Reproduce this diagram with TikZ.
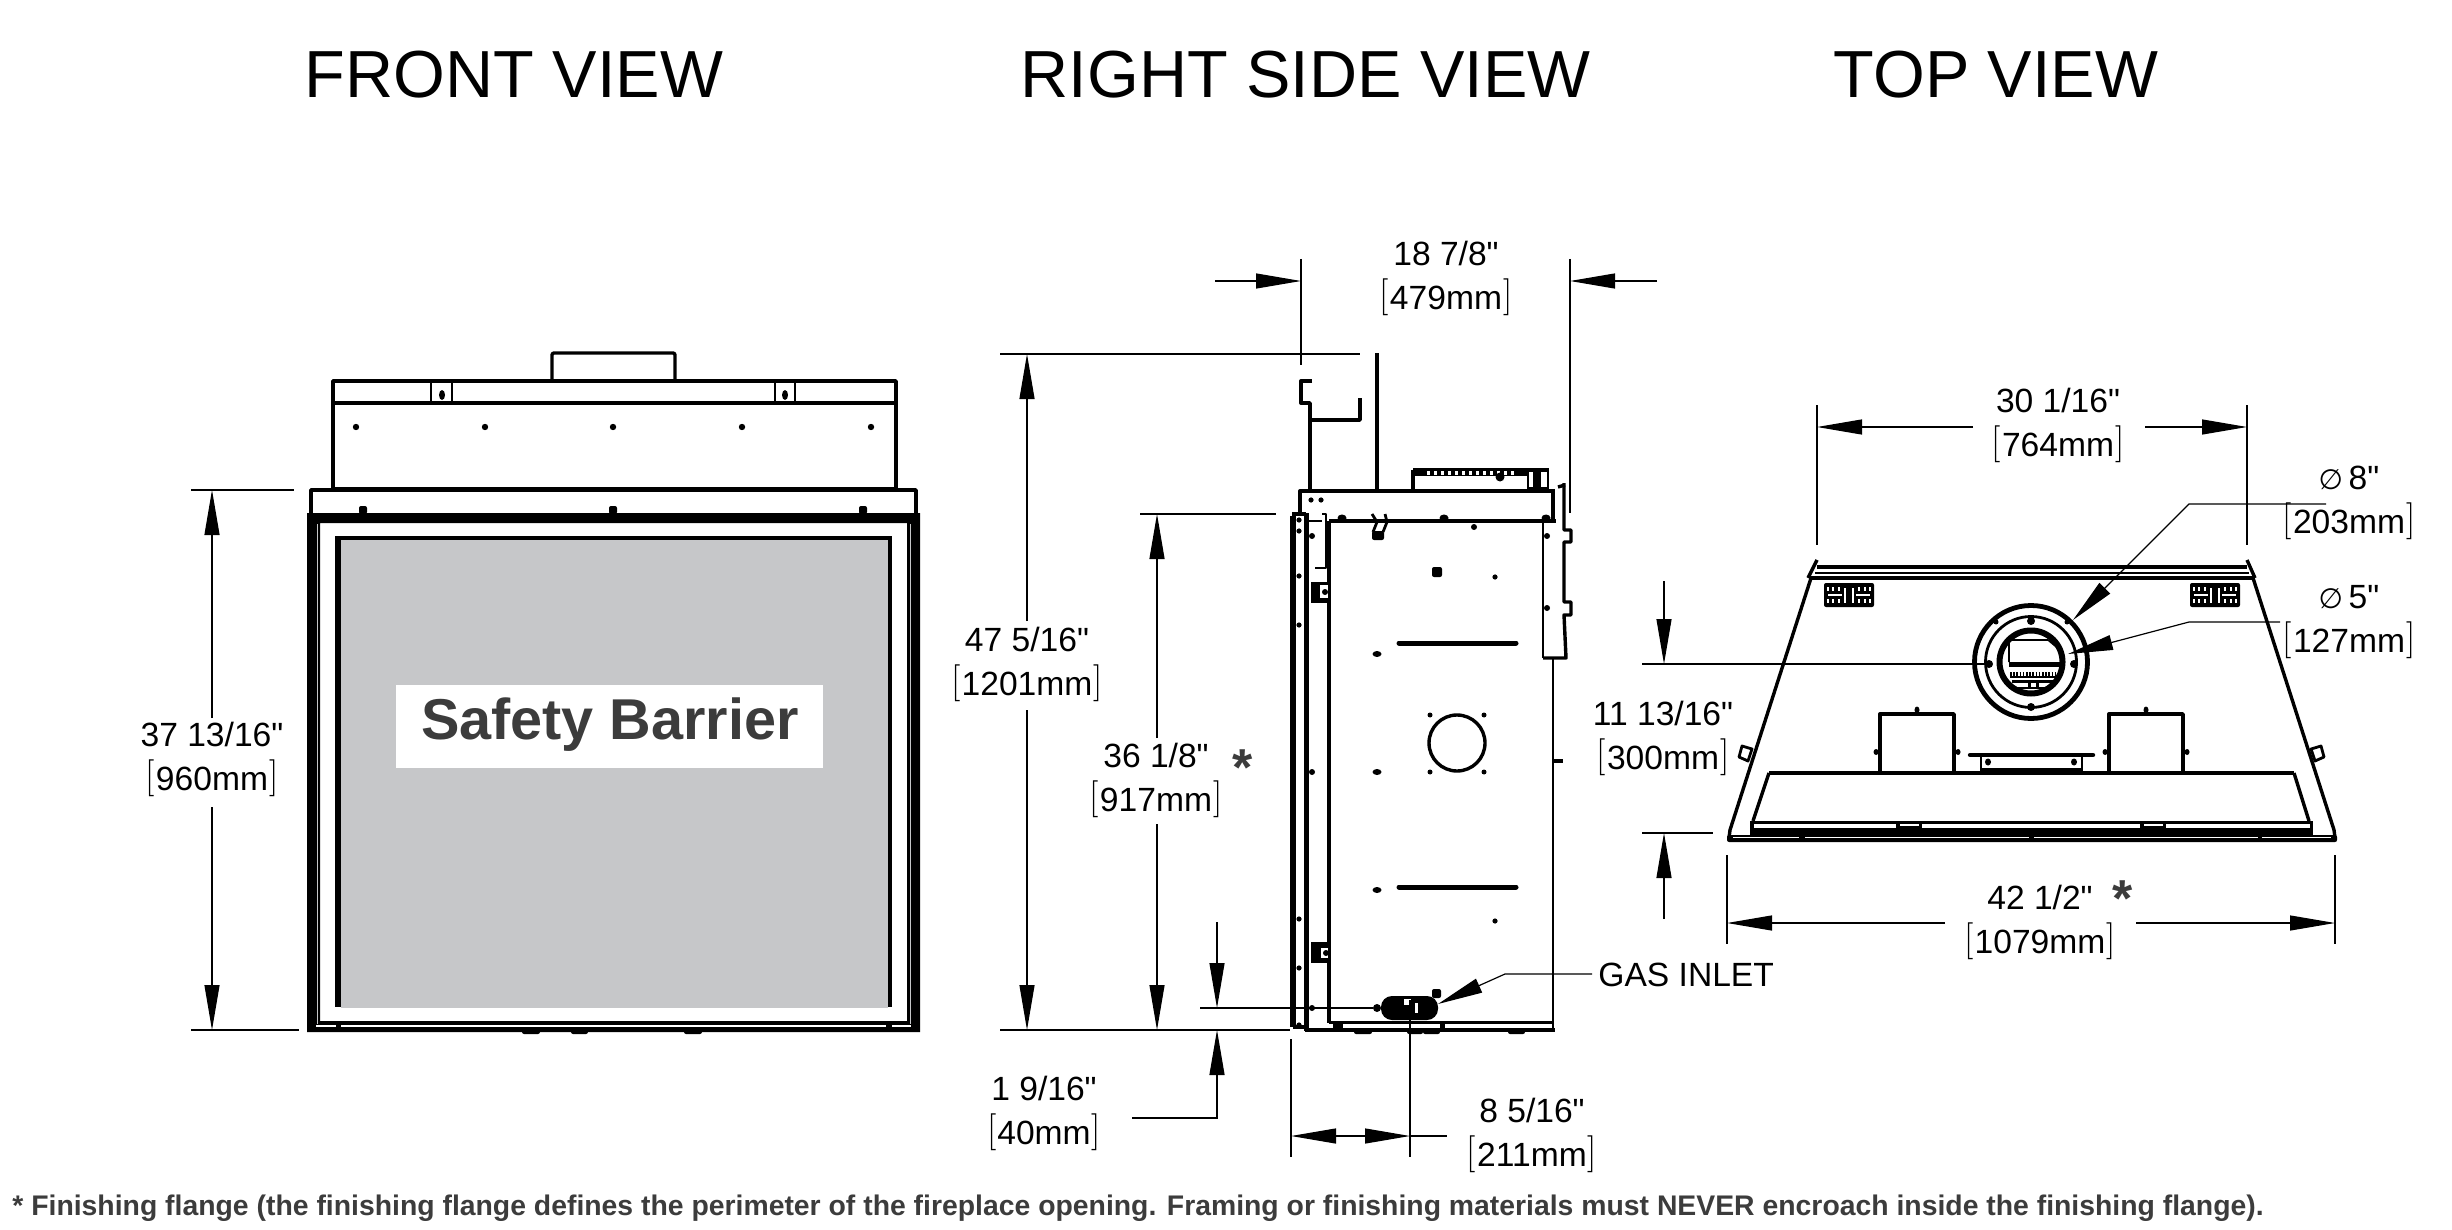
\documentclass[tikz,border=0pt]{standalone}
\usepackage{fontspec}
\usetikzlibrary{arrows.meta}
\newfontfamily\arialfont{Liberation Sans}
\newfontfamily\symfont{DejaVu Sans}
\newcommand{\mmtxt}[1]{{\rmfamily\fontsize{18.5}{18.5}\selectfont\raisebox{1.5pt}{[}}\kern0.5pt#1\kern0.5pt{\rmfamily\fontsize{18.5}{18.5}\selectfont\raisebox{1.5pt}{]}}}
\newcommand{\diatxt}[1]{{\symfont\fontsize{14}{20}\selectfont ∅}\,#1}
\definecolor{panelgray}{HTML}{C6C7C9}
\definecolor{notegray}{HTML}{3C3C3C}
\tikzset{
	titletext/.style={font=\arialfont\fontsize{33.3}{36}\selectfont, inner sep=0pt},
	dimtext/.style={font=\arialfont\fontsize{16.8}{22}\selectfont, align=center, inner sep=0pt},
	startext/.style={font=\arialfont\bfseries\fontsize{26}{26}\selectfont, text=notegray, inner sep=0pt},
	dimline/.style={draw=black, line width=0.6pt},
	dimarrow/.style={dimline, -{Triangle[length=22.5pt, width=7.5pt]}},
	dimboth/.style={dimline, {Triangle[length=22.5pt, width=7.5pt]}-{Triangle[length=22.5pt, width=7.5pt]}},
	partline/.style={draw=black, line width=1.7pt, line join=round},
	thinpart/.style={draw=black, line width=1.4pt, line join=round},
	heavyline/.style={draw=black, line width=2.2pt, line join=round},
	gapline/.style={draw=panelgray, line width=0.35pt},
	pics/ventgrid/.style={code={
		\fill[black, rounded corners=1pt] (0,0) rectangle (50,24);
		\draw[white, line width=0.6pt] (4,12) -- (18,12);
		\draw[white, line width=0.6pt] (32,12) -- (46,12);
		\draw[white, line width=0.6pt] (4,4) -- (4,8);
		\draw[white, line width=0.6pt] (9,4) -- (9,8);
		\draw[white, line width=0.6pt] (15,4) -- (15,8);
		\draw[white, line width=0.6pt] (35,4) -- (35,8);
		\draw[white, line width=0.6pt] (41,4) -- (41,8);
		\draw[white, line width=0.6pt] (46,4) -- (46,8);
		\draw[white, line width=0.6pt] (4,16) -- (4,20);
		\draw[white, line width=0.6pt] (9,16) -- (9,20);
		\draw[white, line width=0.6pt] (15,16) -- (15,20);
		\draw[white, line width=0.6pt] (35,16) -- (35,20);
		\draw[white, line width=0.6pt] (41,16) -- (41,20);
		\draw[white, line width=0.6pt] (46,16) -- (46,20);
		\draw[white, line width=0.6pt] (21,5) -- (21,20);
		\draw[white, line width=0.6pt] (29,5) -- (29,20);
	}},
}
\begin{document}
\begin{tikzpicture}[x=0.5pt, y=-0.5pt]
	\useasboundingbox (0,0) rectangle (2452,1230);
	\node[titletext] (fronttitle) at (514,74.5) {FRONT VIEW};
	\node[titletext] (sidetitle) at (1305.5,74.5) {RIGHT SIDE VIEW};
	\node[titletext] (toptitle) at (1996,74.5) {TOP VIEW};
	\node[font=\arialfont\bfseries\fontsize{14.18}{16}\selectfont, text=notegray, anchor=west, inner sep=0pt] (footnote) at (12,1208) {* Finishing flange (the finishing flange defines the perimeter of the fireplace opening. Framing or finishing materials must NEVER encroach inside the finishing flange).};

	\draw[partline, rounded corners=1pt] (552,380) -- (552,353) -- (675,353) -- (675,380);
	\draw[partline] (333,381) rectangle (896,489);
	\draw[heavyline] (333,381) -- (896,381);
	\draw[heavyline] (333,403) -- (896,403);
	\draw[thinpart] (431,381) -- (431,403);
	\draw[thinpart] (452,381) -- (452,403);
	\draw[thinpart] (775,381) -- (775,403);
	\draw[thinpart] (795,381) -- (795,403);
	\fill[black] (442,395) ellipse (3 and 5);
	\fill[black] (785,395) ellipse (3 and 5);
	\fill[black] (356,427) circle (3.2);
	\fill[black] (485,427) circle (3.2);
	\fill[black] (613,427) circle (3.2);
	\fill[black] (742,427) circle (3.2);
	\fill[black] (871,427) circle (3.2);
	\draw[partline] (311,513) -- (311,490) -- (916,490) -- (916,513);
	\fill[black, rounded corners=1pt] (359,506) rectangle (367,514);
	\fill[black, rounded corners=1pt] (609,506) rectangle (617,514);
	\fill[black, rounded corners=1pt] (859,506) rectangle (867,514);
	\fill[black, even odd rule] (307,513) rectangle (920,1032) (320,523) rectangle (907,1021);
	\draw[gapline] (317,524) -- (317,1024);
	\draw[gapline] (910,524) -- (910,1024);
	\draw[draw=white, line width=1.4pt] (316,1026) -- (336,1026);
	\draw[draw=white, line width=1.4pt] (892,1026) -- (911,1026);
	\draw[draw=white, line width=0.7pt] (341,1026) -- (886,1026);
	\fill[black, rounded corners=1pt] (522,1028) rectangle (540,1034);
	\fill[black, rounded corners=1pt] (571,1028) rectangle (588,1034);
	\fill[black, rounded corners=1pt] (684,1028) rectangle (702,1034);
	\fill[black] (335,536) rectangle (892,1007);
	\fill[panelgray] (341,540) rectangle (888,1008);
	\fill[white] (396,685) rectangle (823,768);
	\node[font=\arialfont\bfseries\fontsize{28.8}{32}\selectfont, text=notegray, inner sep=0pt] (barrier) at (610,725) {Safety Barrier};

	\draw[dimline] (191,490) -- (294,490);
	\draw[dimline] (191,1030) -- (299,1030);
	\draw[dimarrow] (212,718) -- (212,490);
	\draw[dimarrow] (212,807) -- (212,1030);
	\node[dimtext] (frontheight) at (212,759) {37 13/16"\\\mmtxt{960mm}};

	\draw[partline] (1312,381) -- (1301,381) -- (1301,403) -- (1310,403) -- (1310,490);
	\draw[partline] (1310,420) -- (1360,420) -- (1360,398);
	\draw[partline] (1377,353) -- (1377,490);
	\draw[partline] (1300,514) -- (1300,491) -- (1553,491) -- (1553,521);
	\draw[partline] (1553,489) -- (1553,521);
	\draw[thinpart] (1308,521) -- (1322,521);
	\draw[partline] (1329,521) -- (1556,521);
	\draw[partline] (1413,490) -- (1413,470);
	\fill[black] (1413,468) rectangle (1549,476);
	\draw[draw=white, line width=1.6pt, dash pattern=on 1.5pt off 2pt] (1427,473) -- (1518,473);
	\fill[black] (1527,468) rectangle (1549,490);
	\fill[white] (1529,472) rectangle (1533,487);
	\fill[white] (1541,472) rectangle (1547,487);
	\fill[black] (1500,477) circle (4.5);
	\draw[partline] (1558,487) -- (1565,485);
	\draw[partline] (1564,483) -- (1564,530) -- (1571,530) -- (1571,542) -- (1564,542) -- (1564,602) -- (1571,602) -- (1571,615) -- (1564,615) -- (1566,658) -- (1543,658);
	\draw[thinpart] (1543,521) -- (1543,658);
	\draw[thinpart] (1553,658) -- (1553,1030);
	\draw[partline] (1553,761) -- (1563,761);
	\draw[thinpart] (1322,514) -- (1326,514) -- (1326,568) -- (1315,568);
	\draw[partline, line width=3pt] (1293,516) -- (1293,1027);
	\draw[partline, line width=2.5pt] (1306,513) -- (1306,1031);
	\draw[partline] (1292,514) -- (1306,514);
	\draw[partline] (1293,1027) -- (1306,1027);
	\draw[partline] (1329,521) -- (1329,1023);
	\draw[heavyline] (1305,1029.7) -- (1555,1029.7);
	\draw[partline] (1329,1022.7) -- (1553,1022.7);
	\fill[black] (1333,1024) rectangle (1343,1028);
	\fill[black] (1440,1024) rectangle (1445,1028);
	\fill[black, rounded corners=1pt] (1354,1030) rectangle (1372,1034);
	\fill[black, rounded corners=1pt] (1407,1030) rectangle (1423,1034);
	\fill[black, rounded corners=1pt] (1423,1030) rectangle (1440,1034);
	\fill[black, rounded corners=1pt] (1508,1030) rectangle (1525,1034);
	\fill[black] (1311,582) rectangle (1330,603);
	\fill[white] (1320,585) rectangle (1328,598);
	\fill[black] (1325,592) circle (3);
	\fill[black] (1311,942) rectangle (1331,963);
	\fill[white] (1321,948) rectangle (1328,958);
	\fill[black] (1326,953) circle (3);
	\draw[thinpart] (1372,514) -- (1377,522) -- (1373,532);
	\draw[thinpart] (1385,514) -- (1387,522) -- (1383,532);
	\fill[black, rounded corners=1pt] (1372,531) rectangle (1384,540);
	\fill[black] (1311,500) circle (2.6);
	\fill[black] (1321,500) circle (2.6);
	\fill[black] (1299,520) circle (2.6);
	\fill[black] (1299,531) circle (2.6);
	\fill[black] (1312,536) circle (3);
	\fill[black] (1299,576) circle (2.6);
	\fill[black] (1299,625) circle (2.6);
	\fill[black] (1312,772) circle (3);
	\fill[black] (1299,919) circle (2.6);
	\fill[black] (1299,968) circle (2.6);
	\fill[black] (1312,1008) circle (3);
	\fill[black] (1299,1025) circle (2.6);
	\fill[black] (1342,518) ellipse (4.5 and 3.5);
	\fill[black] (1444,518) ellipse (4.5 and 3.5);
	\fill[black] (1546,518) ellipse (4.5 and 3.5);
	\fill[black] (1474,527) circle (3);
	\fill[black] (1547,536) circle (3);
	\fill[black] (1547,608) circle (3);
	\fill[black] (1495,577) circle (2.6);
	\fill[black] (1495,921) circle (2.6);
	\fill[black, rounded corners=1pt] (1432,567) rectangle (1442,577);
	\fill[black] (1377,654) ellipse (4.5 and 3);
	\fill[black] (1377,772) ellipse (4.5 and 3);
	\fill[black] (1377,890) ellipse (4.5 and 3);
	\draw[heavyline, line cap=round, line width=2.5pt] (1399,643) -- (1516,643);
	\draw[heavyline, line cap=round, line width=2.5pt] (1399,887) -- (1516,887);
	\draw[partline] (1457,743) circle (28);
	\fill[black] (1430,715) circle (2.5);
	\fill[black] (1484,715) circle (2.5);
	\fill[black] (1430,772) circle (2.5);
	\fill[black] (1484,772) circle (2.5);
	\fill[black, rounded corners=5.5pt] (1381,996) rectangle (1438,1020);
	\fill[white] (1404,999) rectangle (1411,1005);
	\fill[white] (1415,1003) rectangle (1418,1013);
	\fill[black] (1377,1008) circle (4);
	\fill[black, rounded corners=1pt] (1432,989) rectangle (1441,998);

	\draw[dimline] (1301,259) -- (1301,365);
	\draw[dimline] (1570,259) -- (1570,513);
	\draw[dimarrow] (1215,281) -- (1301,281);
	\draw[dimarrow] (1657,281) -- (1570,281);
	\node[dimtext] (depthtop) at (1446,278) {18 7/8"\\\mmtxt{479mm}};
	\draw[dimline] (1000,354) -- (1360,354);
	\draw[dimline] (1000,1030) -- (1290,1030);
	\draw[dimarrow] (1027,621) -- (1027,354);
	\draw[dimarrow] (1027,710) -- (1027,1030);
	\node[dimtext] (totalheight) at (1027,664) {47 5/16"\\\mmtxt{1201mm}};
	\draw[dimline] (1140,514) -- (1276,514);
	\draw[dimarrow] (1157,738) -- (1157,514);
	\draw[dimarrow] (1157,824) -- (1157,1030);
	\node[dimtext] (openheight) at (1156,780) {36 1/8"\\\mmtxt{917mm}};
	\node[startext] (openstar) at (1243,768) {*};
	\draw[dimline] (1200,1008) -- (1373,1008);
	\draw[dimarrow] (1217,922) -- (1217,1008);
	\draw[dimarrow] (1132,1118) -- (1217,1118) -- (1217,1030);
	\node[dimtext] (gasheight) at (1044,1113) {1 9/16"\\\mmtxt{40mm}};
	\draw[dimline] (1291,1039) -- (1291,1157);
	\draw[dimline] (1410,1000) -- (1410,1157);
	\draw[dimboth] (1291,1136) -- (1410,1136);
	\draw[dimline] (1410,1136) -- (1447,1136);
	\node[dimtext] (gasdepth) at (1532,1135) {8 5/16"\\\mmtxt{211mm}};
	\node[dimtext, anchor=west] (gasinlet) at (1598,975) {GAS INLET};
	\coordinate (gastip) at (1438,1004);
	\draw[dimarrow] (1592,974) -- (1505,974) -- (gastip);

	\draw[partline] (1817,560) -- (1808,578);
	\draw[partline] (2247,560) -- (2255,578);
	\draw[partline] (1817,567) -- (2247,567);
	\draw[dimline] (1815,573) -- (2249,573);
	\draw[partline, line width=2.4pt] (1809,578) -- (2255,578);
	\draw[partline] (1811,578) -- (1730,830) -- (1729,838);
	\draw[partline] (2253,578) -- (2334,830) -- (2335,838);
	\pic at (1824,583) {ventgrid};
	\pic at (2190,583) {ventgrid};
	\draw[partline] (1769,773) -- (2294,773);
	\draw[partline] (1769,773) -- (1753,821);
	\draw[partline] (2294,773) -- (2309,821);
	\draw[partline] (1880,773) -- (1880,714) -- (1954,714) -- (1954,773);
	\draw[partline] (2109,773) -- (2109,714) -- (2183,714) -- (2183,773);
	\fill[black] (1917,710) ellipse (2.5 and 3.5);
	\fill[black] (2146,710) ellipse (2.5 and 3.5);
	\fill[black] (1876,752) ellipse (2.5 and 3);
	\fill[black] (1958,752) ellipse (2.5 and 3);
	\fill[black] (2105,752) ellipse (2.5 and 3);
	\fill[black] (2187,752) ellipse (2.5 and 3);
	\draw[heavyline, line cap=round] (1970,755) -- (2093,755);
	\draw[thinpart] (1981,755) -- (1981,771);
	\draw[thinpart] (2082,755) -- (2082,771);
	\fill[black] (1981,768) rectangle (2082,773);
	\fill[black] (1988,762) ellipse (3 and 3.5);
	\fill[black] (2074,762) ellipse (3 and 3.5);
	\draw[thinpart, fill=white] (1742,746) -- (1752,749) -- (1748,761) -- (1739,757) -- cycle;
	\draw[thinpart, fill=white] (2321,746) -- (2311,749) -- (2315,761) -- (2324,757) -- cycle;
	\fill[black] (1750,821) rectangle (2313,835);
	\fill[white] (1754,824) rectangle (1896,828);
	\fill[white] (1900,824) rectangle (1919,826);
	\fill[white] (1922,824) rectangle (2140,828);
	\fill[white] (2144,824) rectangle (2163,826);
	\fill[white] (2166,824) rectangle (2310,828);
	\fill[black, rounded corners=1pt] (1727,835) rectangle (2337,842);
	\fill[white] (1733,836.5) rectangle (1799,838);
	\fill[white] (1805,836.5) rectangle (2029,838);
	\fill[white] (2034,836.5) rectangle (2258,838);
	\fill[white] (2262,836.5) rectangle (2331,838);

	\draw[partline, line width=2.4pt] (2031,662) circle (56.5);
	\draw[thinpart] (2031,662) circle (45.5);
	\draw[partline, line width=3pt] (2031,662) circle (31.5);
	\fill[black] (2031,621) circle (4);
	\fill[black] (2031,707) circle (4);
	\fill[black] (1989,664) circle (4);
	\fill[black] (2074,664) circle (4);
	\fill[black] (1996,622) circle (2.5);
	\fill[black] (2067,622) circle (2.5);
	\draw[draw=black, line width=0.8pt] (2009,662) -- (2009,640) -- (2048,640) -- (2060,650);
	\fill[black] (2009,662) rectangle (2060,667);
	\draw[draw=black, line width=1.6pt, dash pattern=on 0.8pt off 0.8pt] (2010,674) -- (2058,674);
	\draw[draw=black, line width=0.8pt] (2010,677) -- (2058,677);
	\fill[black] (2012,680) rectangle (2054,683);
	\fill[black] (2028,680) rectangle (2031,687);
	\fill[black] (2036,680) rectangle (2039,687);
	\draw[draw=black, line width=0.8pt] (2012,688) -- (2050,688) -- (2058,677);

	\draw[dimline] (1817,405) -- (1817,545);
	\draw[dimline] (2247,405) -- (2247,545);
	\draw[dimarrow] (1973,427) -- (1817,427);
	\draw[dimarrow] (2145,427) -- (2247,427);
	\node[dimtext] (flatwidth) at (2058,425) {30 1/16"\\\mmtxt{764mm}};
	\coordinate (outerring) at (2073,620);
	\coordinate (innerring) at (2068,654);
	\draw[dimarrow] (2326,504) -- (2189,504) -- (outerring);
	\draw[dimarrow] (2280,622) -- (2189,622) -- (innerring);
	\node[dimtext] (outerdia) at (2349,503) {\diatxt{8"}\\\mmtxt{203mm}};
	\node[dimtext] (innerdia) at (2349,622) {\diatxt{5"}\\\mmtxt{127mm}};
	\draw[dimline] (1642,664) -- (1988,664);
	\draw[dimline] (1642,833) -- (1713,833);
	\draw[dimarrow] (1664,581) -- (1664,664);
	\draw[dimarrow] (1664,919) -- (1664,833);
	\node[dimtext] (ventdepth) at (1663,738) {11 13/16"\\\mmtxt{300mm}};
	\draw[dimline] (1727,855) -- (1727,944);
	\draw[dimline] (2335,855) -- (2335,944);
	\draw[dimarrow] (1945,923) -- (1727,923);
	\draw[dimarrow] (2136,923) -- (2335,923);
	\node[dimtext] (flangewidth) at (2040,922) {42 1/2"\\\mmtxt{1079mm}};
	\node[startext] (widthstar) at (2123,899) {*};
\end{tikzpicture}
\end{document}
